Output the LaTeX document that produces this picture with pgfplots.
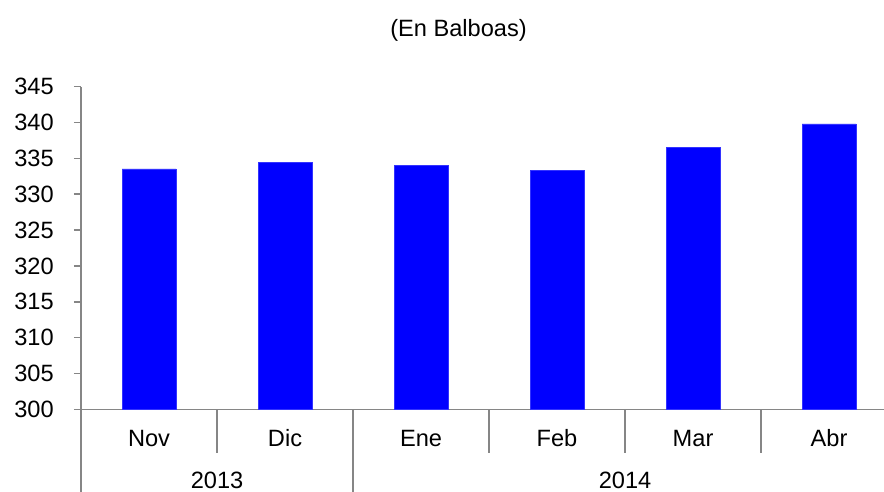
\documentclass[border=0pt]{standalone}
\usepackage{pgfplots}
\pgfplotsset{compat=1.18}
\usepackage{fontspec}
\setmainfont{Liberation Sans}
\usetikzlibrary{calc}
\definecolor{axgray}{RGB}{134,134,134}

\begin{document}
\fontsize{11.8bp}{14bp}\selectfont
\begin{tikzpicture}

\begin{axis}[
    scale only axis,
    width=401.5bp, height=161.3bp,
    xmin=-0.5, xmax=5.404,
    ymin=300, ymax=345,
    ytick={300,305,...,345},
    xtick=\empty,
    axis x line=bottom, axis y line=left,
    axis line style={axgray, line width=0.75bp, -},
    ytick style={axgray, line width=0.75bp},
    major tick length=3.5bp,
    tick align=outside,
    /pgf/number format/assume math mode=true,
    yticklabel style={xshift=-6bp},
    ybar, bar width=27bp,
    clip mode=individual,
    ]

\addplot[fill=blue, draw=blue!80!white, line width=0.3bp]
coordinates {(0,333.52) (1,334.45) (2,333.98) (3,333.34) (4,336.49) (5,339.8)};

\coordinate (O) at (axis cs:-0.5,300);

% separators under the axis
\draw[axgray, line width=0.75bp] (axis cs:0.5,300) -- (axis cs:0.5,293.9);
\draw[axgray, line width=0.75bp] (axis cs:2.5,300) -- (axis cs:2.5,293.9);
\draw[axgray, line width=0.75bp] (axis cs:3.5,300) -- (axis cs:3.5,293.9);
\draw[axgray, line width=0.75bp] (axis cs:4.5,300) -- (axis cs:4.5,293.9);
\draw[axgray, line width=0.75bp] (axis cs:-0.5,300) -- (axis cs:-0.5,288.4);
\draw[axgray, line width=0.75bp] (axis cs:1.5,300) -- (axis cs:1.5,288.4);

% month and year labels
\begin{scope}[every node/.style={anchor=base, inner sep=0pt}]
\node at (axis cs:0,294.88) {Nov};
\node at (axis cs:1,294.88) {Dic};
\node at (axis cs:2,294.88) {Ene};
\node at (axis cs:3,294.88) {Feb};
\node at (axis cs:4,294.88) {Mar};
\node at (axis cs:5,294.88) {Abr};
\node at (axis cs:0.5,288.9) {2013};
\node at (axis cs:3.5,288.9) {2014};
\end{scope}
\end{axis}

\node at ($(O)+(188.75bp,189.65bp)$) {(En Balboas)};

\pgfresetboundingbox
\path ($(O)+(-40.5bp,-41.35bp)$) rectangle ++(442bp,246bp);
\end{tikzpicture}
\end{document}
